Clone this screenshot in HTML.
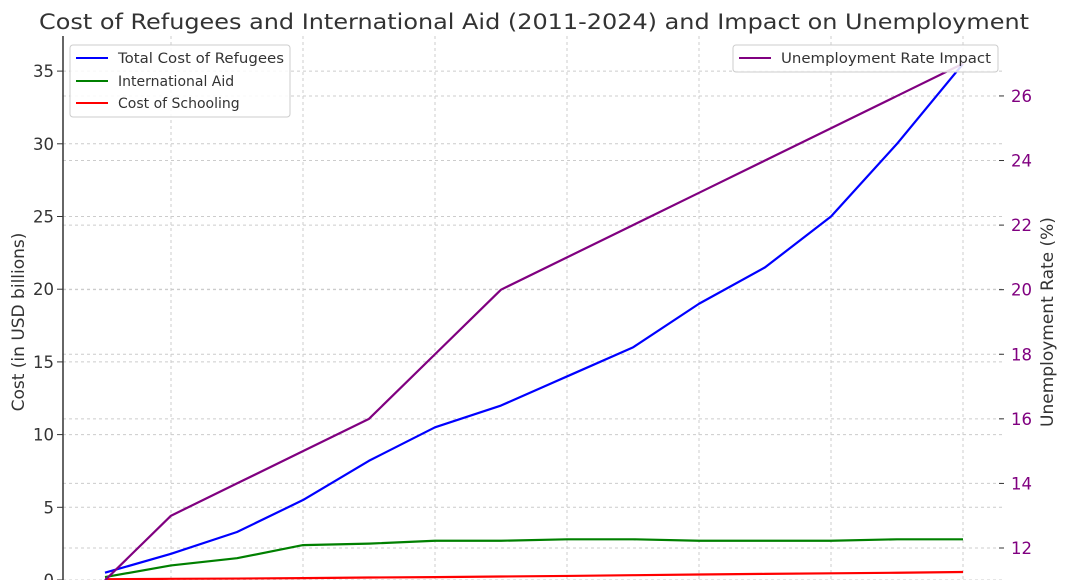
<!DOCTYPE html>
<html><head><meta charset="utf-8"><style>
body{margin:0;background:#fff;}
svg text{font-family:"DejaVu Sans","Liberation Sans",sans-serif;}
</style></head><body>
<svg id="chart" width="1068" height="580" xmlns="http://www.w3.org/2000/svg">
<text x="534" y="29" text-anchor="middle" font-size="21.5" fill="#333" textLength="990" lengthAdjust="spacingAndGlyphs">Cost of Refugees and International Aid (2011-2024) and Impact on Unemployment</text>
<g id="grid"></g>
<g id="axes"></g>
<g id="series"></g>
<text transform="translate(24,322) rotate(-90)" text-anchor="middle" font-size="17" fill="#333">Cost (in USD billions)</text>
<text transform="translate(1053,322) rotate(-90)" text-anchor="middle" font-size="17" fill="#333">Unemployment Rate (%)</text>
<g>
<rect x="70" y="45" width="220" height="72" rx="3" fill="#fff" fill-opacity="0.85" stroke="#ccc"/>
<line x1="76" y1="58" x2="108" y2="58" stroke="#0000ff" stroke-width="2"/><text x="118" y="63" font-size="14" fill="#333" textLength="166" lengthAdjust="spacingAndGlyphs">Total Cost of Refugees</text>
<line x1="76" y1="81" x2="108" y2="81" stroke="#008000" stroke-width="2"/><text x="118" y="86" font-size="14" fill="#333">International Aid</text>
<line x1="76" y1="103" x2="108" y2="103" stroke="#ff0000" stroke-width="2"/><text x="118" y="108" font-size="14" fill="#333">Cost of Schooling</text>
</g>
</svg>
<script>
const years=[2011,2012,2013,2014,2015,2016,2017,2018,2019,2020,2021,2022,2023,2024];
const refugees=[0.5,1.8,3.3,5.5,8.2,10.5,12,14,16,19,21.5,25,30,35.5];
const aid=[0.2,1.0,1.5,2.4,2.5,2.7,2.7,2.8,2.8,2.7,2.7,2.7,2.8,2.8];
const schooling=[0.05,0.08,0.1,0.13,0.17,0.2,0.24,0.28,0.33,0.38,0.42,0.46,0.5,0.55];
const unemployment=[11,13,14,15,16,18,20,21,22,23,24,25,26,27];
const leftTicks=[0,5,10,15,20,25,30,35];
const rightTicks=[12,14,16,18,20,22,24,26];
const NS='http://www.w3.org/2000/svg';
const x=y=>105+(y-2011)*66;
const yL=v=>580-v*14.54;
const yR=v=>548-(v-12)*32.29;
function mk(tag,attrs,parent,txt){const e=document.createElementNS(NS,tag);for(const k in attrs)e.setAttribute(k,attrs[k]);if(txt!==undefined)e.textContent=txt;document.getElementById(parent).appendChild(e);return e;}
years.forEach(yr=>{if((yr-2012)%2===0){const g=mk('line',{x1:x(yr),x2:x(yr),y1:36,y2:580,stroke:'#ccc','stroke-dasharray':'3,3'},'grid');

}});
leftTicks.forEach(t=>{const g=mk('line',{x1:63,x2:1003,y1:yL(t),y2:yL(t),stroke:'#ccc','stroke-dasharray':'3,3'},'grid');


mk('line',{x1:57,x2:63,y1:yL(t),y2:yL(t),stroke:'#333'},'axes');
const l=mk('text',{x:54,y:yL(t)+6,'text-anchor':'end','font-size':16.5,fill:'#333'},'axes',String(t));

});
rightTicks.forEach(t=>{const g=mk('line',{x1:63,x2:1003,y1:yR(t),y2:yR(t),stroke:'#ccc','stroke-dasharray':'3,3'},'grid');


mk('line',{x1:999,x2:1004,y1:yR(t),y2:yR(t),stroke:'#333'},'axes');
const l=mk('text',{x:1011,y:yR(t)+6,'font-size':16.5,fill:'#800080'},'axes',String(t));

});
const sp=mk('line',{x1:63,x2:63,y1:36,y2:580,stroke:'#333','stroke-width':1.5},'axes');


function line(vals,fy,color,name){const p=mk('polyline',{points:vals.map((v,i)=>x(years[i])+','+fy(v)).join(' '),fill:'none',stroke:color,'stroke-width':2.2,'stroke-linejoin':'round'},'series');

}
line(refugees,yL,'#0000ff','line-total-cost-refugees');
line(aid,yL,'#008000','line-international-aid');
line(schooling,yL,'#ff0000','line-cost-of-schooling');
line(unemployment,yR,'#800080','line-unemployment-rate');
</script>
<svg style="position:absolute;left:0;top:0" width="1068" height="580">
<g>
<rect x="733" y="45" width="265" height="27" rx="3" fill="#fff" fill-opacity="0.85" stroke="#ccc"/>
<line x1="739" y1="58" x2="771" y2="58" stroke="#800080" stroke-width="2"/>
<text x="781" y="63" font-size="14" fill="#333" font-family="DejaVu Sans, sans-serif" textLength="210" lengthAdjust="spacingAndGlyphs">Unemployment Rate Impact</text>
</g>
</svg>
</body></html>
